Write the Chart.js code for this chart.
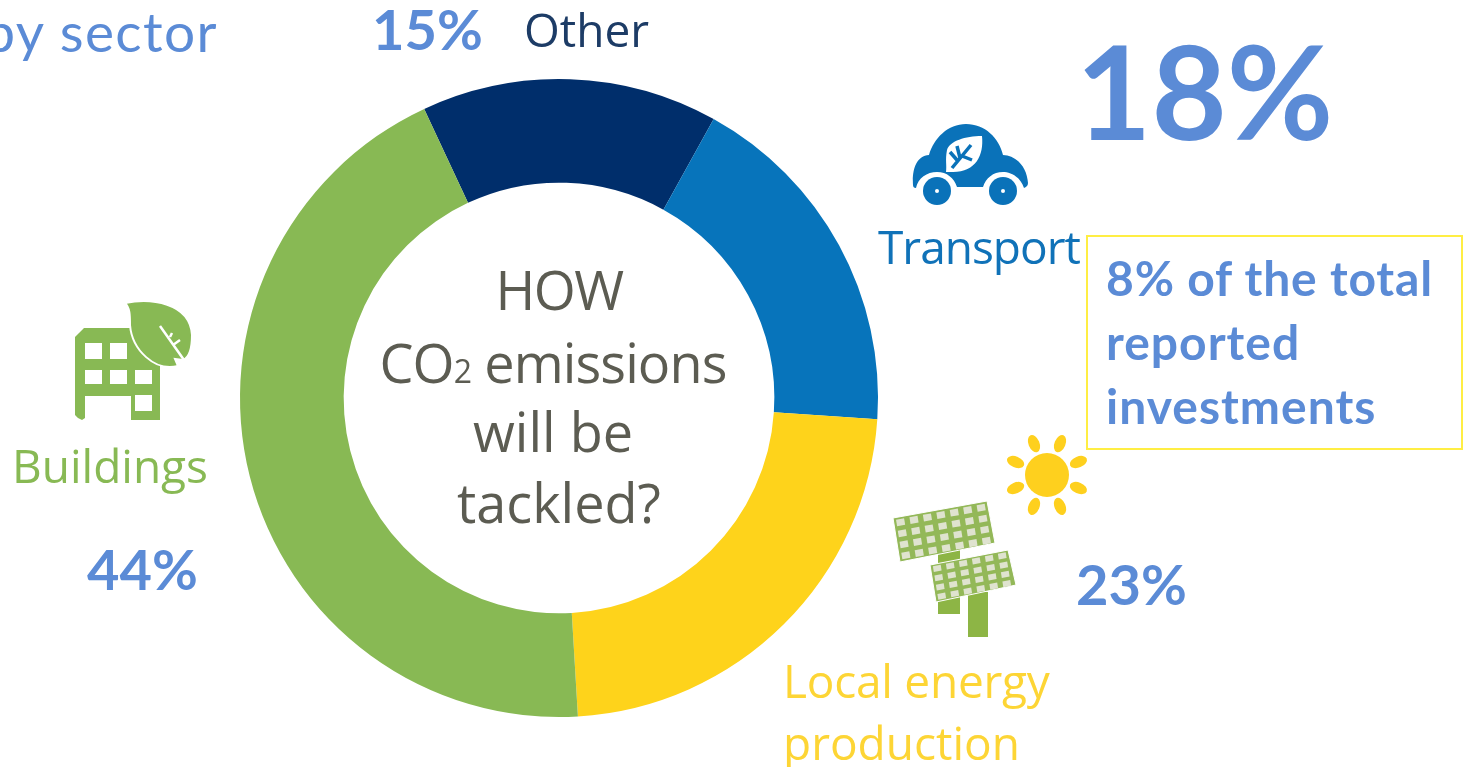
<!DOCTYPE html>
<html><head><meta charset="utf-8">
<script src="https://cdn.jsdelivr.net/npm/chart.js@4"></script>
<style>
html,body{margin:0;padding:0;background:#fff;width:1464px;height:767px;overflow:hidden}
#wrap{position:relative;width:1464px;height:767px}
#c{position:absolute;left:0;top:0}
#ov{position:absolute;left:0;top:0}
.p{font-family:Lato,sans-serif;font-weight:700;fill:#5b8bd6}
.l{font-family:"Open Sans",sans-serif}
</style></head><body>
<div id="wrap"><canvas id="c" width="1464" height="767"></canvas>
<svg id="ov" width="1464" height="767" xmlns="http://www.w3.org/2000/svg">
<text x="218" y="52" text-anchor="end" font-family="Lato" font-size="55" letter-spacing="1.4" fill="#5b8bd6">by sector</text>
<text class="p" x="372" y="50" font-size="56">15%</text>
<text class="l" x="524" y="47" font-size="46" fill="#1d3c66">Other</text>
<text class="p" x="1076" y="140" font-size="130">18%</text>
<text class="l" x="878" y="264" font-size="46" letter-spacing="-1" fill="#1072b8">Transport</text>
<rect x="1087" y="236" width="375" height="213" fill="none" stroke="#ffee44" stroke-width="2"/>
<text class="p" x="1106" y="296" font-size="48" letter-spacing="0.8">8% of the total</text>
<text class="p" x="1106" y="360" font-size="48" letter-spacing="1">reported</text>
<text class="p" x="1106" y="424" font-size="48" letter-spacing="1">investments</text>
<text class="p" x="1076" y="605" font-size="56">23%</text>
<text class="p" x="87" y="590" font-size="56">44%</text>
<text class="l" x="783" y="698" font-size="46" letter-spacing="-0.25" fill="#fdd535">Local energy</text>
<text class="l" x="783" y="760" font-size="46" fill="#fdd535">production</text>
<text class="l" x="12" y="483" font-size="46" fill="#88b954">Buildings</text>
<g font-family="Open Sans" font-size="54" fill="#5c5c52" text-anchor="middle">
<text x="559" y="310" letter-spacing="-1.5">HOW</text>
<text x="553" y="383" letter-spacing="-0.9">CO<tspan font-size="32">2</tspan> emissions</text>
<text x="553" y="452">will be</text>
<text x="559" y="523">tackled?</text>
</g>
<!-- car icon -->
<g>
<path d="M913 185 C912 170 916 156 929 155 C934 138 948 124 966 124 C985 124 999 138 1003 155 C1018 156 1027 168 1028 183 C1028 186 1026 187 1024 188 C1020 176 1010 172 1003 172 C993 172 986 178 983 187 L957 187 C954 178 947 172 937 172 C927 172 918 178 916 188 C914 188 913 187 913 185 Z" fill="#0a72b9"/>
<circle cx="937" cy="191" r="14" fill="#0a72b9"/><circle cx="1003" cy="191" r="14" fill="#0a72b9"/>
<circle cx="937" cy="191" r="2" fill="#fff"/><circle cx="1003" cy="191" r="2" fill="#fff"/>
<path d="M982 136 C984 155 976 172 953 172 L946 172 C947 165 945 160 947 150 C950 141 965 136 982 136 Z" fill="#fff"/>
<path d="M952 168 L971 145 M960 158 L957 146 M962 156 L972 160 M957 160 L950 152" stroke="#0a72b9" stroke-width="3.5" fill="none"/>
</g>
<!-- building icon -->
<g>
<path d="M79 333 L84 328 L135 328 L160 360 L160 420 L131 420 L131 396 L85 396 L85 418 L82 420 L78 418 L75 415 L75 337 Z" fill="#88b954"/>
<g fill="#fff">
<rect x="85" y="343" width="17" height="16"/><rect x="110" y="343" width="17" height="16"/>
<rect x="85" y="370" width="17" height="14"/><rect x="110" y="370" width="17" height="14"/><rect x="135" y="370" width="17" height="14"/>
<rect x="135" y="395" width="17" height="16"/>
</g>
<path d="M125 303 C150 298 190 302 192 335 C192 350 188 358 183 360 L175 359 L178 366 C155 372 132 350 130 325 C130 315 130 308 125 303 Z" fill="#88b954" stroke="#fff" stroke-width="2"/>
<path d="M160 326 L184 360 M170 337 L172 333 M173 345 L180 340" stroke="#fff" stroke-width="2.5" fill="none"/>
</g>
<!-- solar and sun, filled by script below -->
<g id="solar"></g><g id="sun"></g>
</svg></div>
<script>
const categories = ["Other", "Transport", "Local energy production", "Buildings"];
const shares = [15, 18, 23, 44];
const sliceColors = ["#002e6b", "#0774bb", "#fed31b", "#88b954"];

new Chart(document.getElementById("c"), {
  type: "doughnut",
  data: { labels: categories, datasets: [{ data: shares, backgroundColor: sliceColors, borderWidth: 0 }] },
  options: {
    responsive: false, animation: false, cutout: "67.5%", rotation: -25,
    layout: { padding: { left: 240, right: 586, top: 79, bottom: 50 } },
    plugins: { legend: { display: false }, tooltip: { enabled: false } }
  }
});

// Decorative icons
const NS = "http://www.w3.org/2000/svg";
function el(parent, tag, attrs) { const e = document.createElementNS(NS, tag); for (const k in attrs) e.setAttribute(k, attrs[k]); parent.appendChild(e); return e; }
const solar = document.getElementById("solar"), sun = document.getElementById("sun");
el(solar, "rect", { x: 938, y: 550, width: 22, height: 64, fill: "#8db545" });
el(solar, "rect", { x: 968, y: 592, width: 20, height: 45, fill: "#8db545" });
function panel(q, cols, rows) {
  el(solar, "polygon", { points: q.map(p => p.join(",")).join(" "), fill: "#93b858", stroke: "#fff", "stroke-width": 1 });
  const at = (u, v) => [
    q[0][0] + (q[1][0]-q[0][0])*u + (q[3][0]-q[0][0])*v,
    q[0][1] + (q[1][1]-q[0][1])*u + (q[3][1]-q[0][1])*v];
  for (let i = 0; i < cols; i++) for (let j = 0; j < rows; j++) {
    const m = 0.2, u0=(i+m)/cols,u1=(i+1-m)/cols,v0=(j+m)/rows,v1=(j+1-m)/rows;
    el(solar, "polygon", { points: [at(u0,v0),at(u1,v0),at(u1,v1),at(u0,v1)].map(p=>p.join(",")).join(" "), fill: "#dfe3cf" });
  }
}
panel([[893,518],[987,501],[995,543],[900,562]], 7, 4);
panel([[930,565],[1008,550],[1016,585],[936,602]], 6, 4);
el(sun, "circle", { cx: 1047, cy: 475, r: 22, fill: "#fed01e" });
for (let k = 0; k < 8; k++) {
  el(sun, "ellipse", { cx: 1047, cy: 475-34, rx: 5.5, ry: 9, fill: "#fed01e", transform: `rotate(${22.5+45*k} 1047 475)` });
}
</script>
</body></html>
